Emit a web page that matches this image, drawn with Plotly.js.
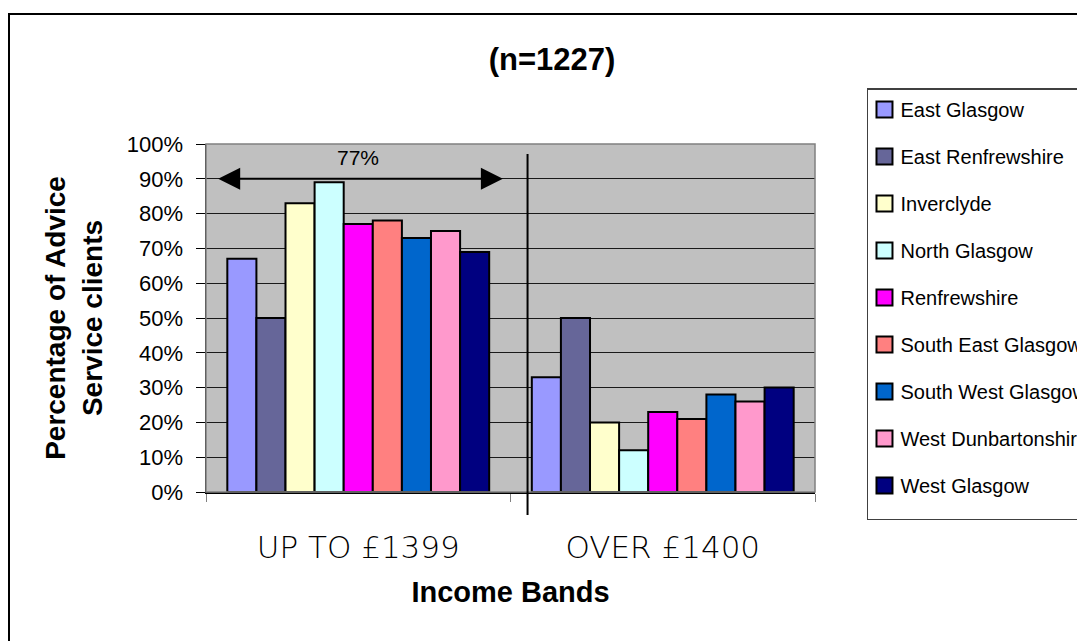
<!DOCTYPE html>
<html>
<head>
<meta charset="utf-8">
<script src="https://cdn.plot.ly/plotly-3.0.1.min.js"></script>
<style>
  html, body { margin: 0; padding: 0; background: #fff; overflow: hidden; }
  #chart { width: 1077px; height: 641px; }
  #frame {
    position: absolute; left: 8px; top: 13px; width: 1200px; height: 800px;
    border-left: 2px solid #000; border-top: 2px solid #000;
    pointer-events: none; box-sizing: border-box;
  }
</style>
</head>
<body>
<div id="chart"></div>
<div id="frame"></div>
<script>
// Income bands on the category axis
const incomeBands = ['UP TO £1399', 'OVER £1400'];

// Advice services, one bar series each
const services = [
  'East Glasgow', 'East Renfrewshire', 'Inverclyde', 'North Glasgow',
  'Renfrewshire', 'South East Glasgow', 'South West Glasgow',
  'West Dunbartonshire', 'West Glasgow'
];

// Percentage of clients in each band, per service
const upTo1399 = [67, 50, 83, 89, 77, 78, 73, 75, 69];
const over1400 = [33, 50, 20, 12, 23, 21, 28, 26, 30];

// Series fill colours
const serviceColors = [
  '#9999FF', '#666699', '#FFFFCC', '#CCFFFF', '#FF00FF',
  '#FF8080', '#0066CC', '#FF99CC', '#000080'
];

// Overall share in the lower band, shown over the arrow
const overallLabel = '77%';

const arial = 'Liberation Sans, Arial, sans-serif';

const traces = services.map((name, i) => ({
  type: 'bar',
  name: name,
  legendgroup: name,
  x: incomeBands,
  y: [upTo1399[i], over1400[i]],
  marker: { color: serviceColors[i], line: { color: '#000', width: 2 } },
  hoverinfo: 'x+y+name'
}));

const layout = {
  width: 1077,
  height: 641,
  margin: { l: 206, r: 262, t: 144, b: 149 },
  paper_bgcolor: '#fff',
  plot_bgcolor: '#c0c0c0',
  barmode: 'group',
  bargap: 0.14,
  bargroupgap: 0,
  font: { family: arial, color: '#000' },
  title: {
    text: '<b>(n=1227)</b>',
    font: { family: arial, size: 31, color: '#000' },
    xref: 'container', yref: 'container',
    x: 0.5125, xanchor: 'center',
    y: 0.908, yanchor: 'middle'
  },
  xaxis: {
    type: 'category',
    categoryarray: incomeBands,
    range: [-0.5, 1.5],
    showline: true, linecolor: '#000', linewidth: 1.5,
    ticks: 'outside', tickson: 'boundaries', ticklen: 8, tickcolor: '#808080', tickwidth: 1,
    showgrid: false,
    tickfont: { family: 'DejaVu Sans, sans-serif', size: 31, weight: 200, color: '#000' },
    ticklabelstandoff: 27,
    title: {
      text: '<b>Income Bands</b>',
      font: { family: arial, size: 29, color: '#000' },
      standoff: 18
    },
    automargin: false,
    fixedrange: true
  },
  yaxis: {
    range: [0, 100],
    dtick: 10,
    ticksuffix: '%',
    showline: true, linecolor: '#000', linewidth: 1.5,
    ticks: 'outside', ticklen: 9, tickcolor: '#000', tickwidth: 1,
    showgrid: true, gridcolor: '#1a1a1a', gridwidth: 1,
    zeroline: false,
    tickfont: { family: arial, size: 22, color: '#000' },
    ticklabelstandoff: 8,
    title: {
      text: '<b>Percentage of Advice<br>Service clients</b>',
      font: { family: arial, size: 28, color: '#000' },
      standoff: 16
    },
    automargin: true,
    fixedrange: true
  },
  legend: {
    xref: 'container', yref: 'container',
    x: 0.805, xanchor: 'left',
    y: 0.862, yanchor: 'top',
    maxheight: 600,
    bgcolor: '#fff',
    bordercolor: '#404040', borderwidth: 1.5,
    font: { family: arial, size: 20, color: '#000' },
    traceorder: 'grouped',
    tracegroupgap: 18
  },
  shapes: [
    // grey border on the top and right of the plot area
    { type: 'rect', xref: 'paper', yref: 'paper', x0: 0, x1: 1, y0: 0, y1: 1,
      line: { color: '#808080', width: 1.5 }, layer: 'above' },
    // divider between the two income bands
    { type: 'line', xref: 'x', yref: 'paper', x0: 0.556, x1: 0.556, y0: 0.971, y1: -0.066,
      line: { color: '#000', width: 2 }, layer: 'above' }
  ],
  annotations: [
    // double-headed arrow spanning the lower band
    { xref: 'x', yref: 'y', axref: 'x', ayref: 'y',
      x: 0.475, y: 90, ax: -0.465, ay: 90,
      text: '', showarrow: true, arrowside: 'end+start',
      arrowhead: 2, arrowsize: 2.2, arrowwidth: 2, arrowcolor: '#000' },
    { xref: 'x', yref: 'y', x: 0, y: 96, xanchor: 'center', yanchor: 'middle',
      text: overallLabel, showarrow: false,
      font: { family: arial, size: 21, color: '#000' } }
  ]
};

Plotly.newPlot('chart', traces, layout, { displayModeBar: false, staticPlot: true }).then(gd => {
  // tighter legend rows: larger swatches, text closer to them
  gd.querySelectorAll('.legend .legendpoints path').forEach(p => {
    p.setAttribute('d', 'M8,8H-8V-8H8Z');
  });
  gd.querySelectorAll('.legend .traces').forEach(g => {
    const pts = g.querySelector('.legendpoints');
    if (pts) pts.setAttribute('transform', 'translate(-4,0)');
    const txt = g.querySelector('.legendtext');
    if (txt) txt.setAttribute('x', 32);
  });
  // a little extra room below the last legend row
  const bg = gd.querySelector('.legend rect.bg');
  if (bg) bg.setAttribute('height', parseFloat(bg.getAttribute('height')) + 14);
});
</script>
</body>
</html>
